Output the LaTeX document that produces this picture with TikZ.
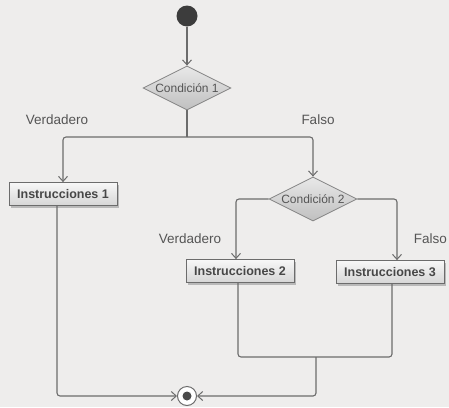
\documentclass[tikz,border=0pt]{standalone}
\usepackage{fontspec}
\setmainfont{Liberation Sans}
\usetikzlibrary{arrows.meta,shapes.geometric,shadows}
\definecolor{bg}{HTML}{EEEDEC}
\definecolor{ln}{HTML}{6C6C6C}
\definecolor{txt}{HTML}{555555}
\definecolor{startc}{HTML}{3C3C3C}
\definecolor{endc}{HTML}{4A4A4A}
\begin{document}
\begin{tikzpicture}[x=1pt,y=-1pt,
  conn/.style={draw=ln, line width=1.1pt, rounded corners=3pt},
  arr/.style={-{Straight Barb[length=5pt,width=9pt,line width=1pt]}},
  dec/.style={diamond, aspect=2, draw=ln!85, line width=0.8pt, minimum width=88pt,
    minimum height=44pt, inner sep=0pt, top color=gray!18, bottom color=gray!50,
    font=\fontsize{12}{12}\selectfont, text=txt},
  box/.style={rectangle, draw=ln, line width=0.8pt, minimum width=108pt,
    minimum height=23pt, inner sep=1pt, top color=gray!6, bottom color=gray!32,
    font=\bfseries\fontsize{12.5}{12.5}\selectfont, text=black!72,
    drop shadow={shadow xshift=2pt, shadow yshift=-2pt, fill=gray!55, opacity=1}},
  lbl/.style={font=\fontsize{13.5}{13.5}\selectfont, text=txt, inner sep=0pt}]
\useasboundingbox[fill=bg] (0,0) rectangle (449,407);

\node[circle, fill=startc, minimum size=21pt, inner sep=0pt] (s) at (187,16) {};
\node[dec] (d1) at (187,88) {Condición 1};
\node[box] (i1) at (63,194) {Instrucciones 1};
\node[dec] (d2) at (313,199) {Condición 2};
\node[box] (i2) at (240,271) {Instrucciones 2};
\node[box] (i3) at (390,272) {Instrucciones 3};
\node[circle, draw=ln, fill=white, minimum size=19pt, inner sep=0pt, line width=1pt] (e) at (187,396) {};
\node[circle, fill=endc, minimum size=9pt, inner sep=0pt] (ed) at (e) {};

\node[lbl] (v1) at (57,120) {Verdadero};
\node[lbl] (f1) at (318,120) {Falso};
\node[lbl] (v2) at (190,239) {Verdadero};
\node[lbl, anchor=east] (f2) at (447,239) {Falso};

\coordinate (j1) at (187,137);
\coordinate (m) at (316,357);
\coordinate (b1) at ([xshift=-6pt]i1.south);
\coordinate (b2) at ([xshift=-2pt]i2.south);
\coordinate (b3) at ([xshift=2pt]i3.south);
\coordinate (t2) at ([xshift=-4pt]i2.north);
\coordinate (t3) at ([xshift=7pt]i3.north);

\draw[conn,arr] (s) -- (d1);
\draw[conn] (d1.south) -- (j1);
\draw[conn,arr] (j1) -| (i1.north);
\draw[conn,arr] (j1) -| (d2.north);
\draw[conn,arr] (d2.west) -| (t2);
\draw[conn,arr] (d2.east) -| (t3);
\draw[conn] (b2) |- (m) -| (b3);
\draw[conn,arr] (m) |- (e.east);
\draw[conn,arr] (b1) |- (e.west);
\end{tikzpicture}
\end{document}
